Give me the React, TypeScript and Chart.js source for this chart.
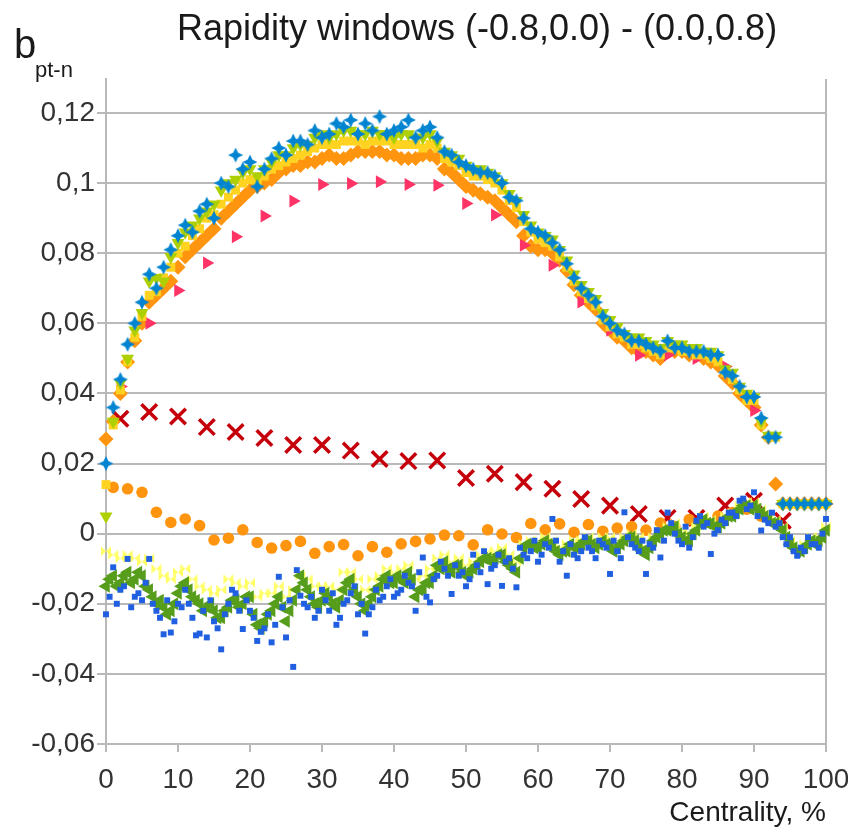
import React, { useEffect, useRef } from 'react';
import { Chart, registerables } from 'chart.js';

Chart.register(...registerables);

// ---------- axis / category data ----------
const centrality: number[] = Array.from({ length: 101 }, (_, i) => i);
const centralityHalf: number[] = centrality.slice(0, 100).map((c) => c + 0.5);
const sparse4: number[] = [2, 6, 10, 14, 18, 22, 26, 30, 34, 38, 42, 46, 50, 54, 58, 62, 66, 70, 74, 78, 82, 86, 90, 94];
const sparseOdd: number[] = [1, 3, 5, 7, 9, 11, 13, 15, 17, 19, 21, 23, 25, 27, 29, 31, 33, 35, 37, 39, 41, 43, 45, 47, 49, 51, 53, 55, 57, 59, 61, 63, 65, 67, 69, 71, 73, 75, 77, 79, 81, 83, 85, 87, 89, 91];
const yTickValues: number[] = [-0.06, -0.04, -0.02, 0, 0.02, 0.04, 0.06, 0.08, 0.1, 0.12];
const xTickValues: number[] = [0, 10, 20, 30, 40, 50, 60, 70, 80, 90, 100];

const titleText = 'Rapidity windows (-0.8,0.0) - (0.0,0.8)';
const yLabelMain = 'b';
const yLabelSub = 'pt-n';
const xLabel = 'Centrality, %';

// ---------- upper band series (x = 0..100) ----------
const blueStar: number[] = [
  0.02, 0.036, 0.044, 0.054, 0.06, 0.066, 0.074, 0.07, 0.076, 0.081,
  0.085, 0.088, 0.086, 0.092, 0.094, 0.09, 0.1, 0.099, 0.108, 0.104,
  0.106, 0.099, 0.104, 0.107, 0.11, 0.108, 0.112, 0.112, 0.111, 0.115,
  0.113, 0.114, 0.117, 0.116, 0.118, 0.114, 0.117, 0.115, 0.119, 0.114,
  0.115, 0.116, 0.118, 0.113, 0.115, 0.116, 0.113, 0.109, 0.108, 0.106,
  0.105, 0.104, 0.103, 0.103, 0.102, 0.1, 0.096, 0.095, 0.09, 0.087,
  0.086, 0.085, 0.083, 0.081, 0.077, 0.073, 0.07, 0.068, 0.066, 0.062,
  0.06, 0.058, 0.057, 0.055, 0.055, 0.054, 0.053, 0.052, 0.055, 0.053,
  0.053, 0.052, 0.052, 0.052, 0.051, 0.051, 0.046, 0.045, 0.042, 0.039,
  0.039, 0.033, 0.0275, 0.0275, 0.0085, 0.0085, 0.0085, 0.0085, 0.0085, 0.0085,
  0.0085,
];
const yellowGreenTri: number[] = [
  0.005, 0.032, 0.043, 0.05, 0.058, 0.063, 0.072, 0.073, 0.072, 0.079,
  0.083, 0.086, 0.088, 0.09, 0.092, 0.094, 0.098, 0.1, 0.101, 0.103,
  0.104, 0.102, 0.104, 0.106, 0.108, 0.108, 0.11, 0.111, 0.111, 0.113,
  0.114, 0.113, 0.114, 0.115, 0.115, 0.114, 0.114, 0.115, 0.114, 0.114,
  0.113, 0.114, 0.114, 0.113, 0.113, 0.114, 0.112, 0.109, 0.108, 0.107,
  0.105, 0.104, 0.104, 0.103, 0.102, 0.1, 0.097, 0.095, 0.091, 0.088,
  0.086, 0.085, 0.084, 0.081, 0.078, 0.074, 0.071, 0.069, 0.067, 0.063,
  0.061, 0.059, 0.057, 0.056, 0.056, 0.055, 0.054, 0.053, 0.055, 0.054,
  0.054, 0.053, 0.053, 0.052, 0.052, 0.051, 0.047, 0.046, 0.042, 0.04,
  0.039, 0.032, 0.028, 0.028, 0.0085, 0.0085, 0.0085, 0.0085, 0.0085, 0.0085,
  0.0085,
];
const yellowSquare: number[] = [
  0.014, 0.031, 0.041, 0.049, 0.056, 0.062, 0.068, 0.069, 0.073, 0.076,
  0.08, 0.082, 0.085, 0.087, 0.09, 0.091, 0.094, 0.096, 0.098, 0.1,
  0.101, 0.1, 0.102, 0.104, 0.105, 0.106, 0.107, 0.108, 0.109, 0.11,
  0.111, 0.111, 0.111, 0.112, 0.112, 0.112, 0.111, 0.112, 0.112, 0.112,
  0.111, 0.111, 0.111, 0.111, 0.11, 0.111, 0.11, 0.107, 0.106, 0.105,
  0.103, 0.102, 0.102, 0.101, 0.1, 0.098, 0.095, 0.093, 0.089, 0.086,
  0.084, 0.083, 0.082, 0.079, 0.076, 0.072, 0.069, 0.067, 0.065, 0.061,
  0.059, 0.057, 0.056, 0.054, 0.054, 0.053, 0.052, 0.051, 0.053, 0.053,
  0.052, 0.052, 0.051, 0.051, 0.05, 0.049, 0.046, 0.044, 0.041, 0.038,
  0.038, 0.031, 0.0275, 0.0275, 0.0085, 0.0085, 0.0085, 0.0085, 0.0085, 0.0085,
  0.0085,
];
const orangeDiamond: number[] = [
  0.027, 0.032, 0.04, 0.049, 0.055, 0.06, 0.066, 0.068, 0.07, 0.072,
  0.076, 0.079, 0.081, 0.083, 0.085, 0.087, 0.09, 0.092, 0.094, 0.096,
  0.098, 0.099, 0.1, 0.101, 0.103, 0.104, 0.105, 0.105, 0.106, 0.106,
  0.107, 0.108, 0.107, 0.107, 0.108, 0.109, 0.109, 0.109, 0.109, 0.108,
  0.108, 0.107, 0.107, 0.107, 0.108, 0.108, 0.107, 0.104, 0.103, 0.101,
  0.099, 0.098, 0.097, 0.096, 0.095, 0.093, 0.091, 0.089, 0.085, 0.082,
  0.081, 0.081, 0.08, 0.078, 0.075, 0.071, 0.068, 0.066, 0.064, 0.06,
  0.058, 0.056, 0.055, 0.053, 0.052, 0.052, 0.051, 0.05, 0.052, 0.052,
  0.052, 0.051, 0.051, 0.05, 0.049, 0.048, 0.045, 0.043, 0.04, 0.038,
  0.036, 0.031, 0.0275, 0.0142, 0.0085, 0.0085, 0.0085, 0.0085, 0.0085, 0.0085,
  0.0085,
];

// ---------- sparse series ----------
const pinkTri: number[] = [
  0.042, 0.06, 0.0694, 0.0772, 0.0847, 0.0906, 0.0949, 0.0996, 0.0999, 0.1004,
  0.0996, 0.0994, 0.0942, 0.0909, 0.0823, 0.0766, 0.0661, 0.058, 0.0509, 0.051,
  0.05, 0.0477, 0.0351,
];
const redCross: number[] = [
  0.0328, 0.0347, 0.0334, 0.0304, 0.029, 0.0273, 0.0253, 0.0253, 0.0237, 0.0213,
  0.0207, 0.0209, 0.0159, 0.0171, 0.0147, 0.0128, 0.0099, 0.008, 0.0056, 0.0045,
  0.0045, 0.008, 0.0094, 0.0037,
];
const orangeCircle: number[] = [
  0.0132, 0.0128, 0.0118, 0.0061, 0.0032, 0.0042, 0.0023, -0.0018, -0.0013, 0.0011,
  -0.0025, -0.0041, -0.0034, -0.0022, -0.0056, -0.0037, -0.0031, -0.0063, -0.0037, -0.0053,
  -0.0029, -0.0022, -0.0015, -0.0004, -0.0006, -0.0032, 0.0011, -0.0001, -0.0011, 0.0029,
  0.0011, 0.0028, 0.0004, 0.0026, 0.0007, 0.0016, 0.002, 0.001, 0.003, 0.002,
  0.004, 0.003, 0.005, 0.006, 0.007, 0.005,
];

// ---------- lower band series ----------
const greenTriA: number[] = [
  -0.015, -0.012, -0.014, -0.011, -0.013, -0.012, -0.016, -0.02, -0.021, -0.022,
  -0.017, -0.014, -0.018, -0.02, -0.021, -0.022, -0.024, -0.021, -0.019, -0.02,
  -0.018, -0.026, -0.025, -0.022, -0.018, -0.025, -0.019, -0.012, -0.016, -0.02,
  -0.019, -0.018, -0.021, -0.016, -0.013, -0.018, -0.022, -0.018, -0.015, -0.012,
  -0.014, -0.013, -0.011, -0.018, -0.016, -0.014, -0.009, -0.008, -0.011, -0.009,
  -0.012, -0.01, -0.008, -0.007, -0.007, -0.006, -0.009, -0.011, -0.004, -0.003,
  -0.004, -0.002, -0.003, -0.006, -0.005, -0.004, -0.003, -0.002, -0.004, -0.002,
  -0.003, -0.004, -0.002, -0.001, -0.003, -0.006, -0.002, 0, 0.001, 0.002,
  -0.001, -0.002, 0.001, 0.004, 0.003, 0.002, 0.004, 0.005, 0.007, 0.008,
  0.008, 0.006, 0.004, 0.003, 0.001, -0.003, -0.005, -0.004, -0.002, -0.002,
  0.001,
];
const greenTriB: number[] = [
  -0.013, -0.015, -0.012, -0.014, -0.011, -0.015, -0.018, -0.019, -0.023, -0.02,
  -0.015, -0.016, -0.019, -0.022, -0.02, -0.024, -0.022, -0.019, -0.021, -0.018,
  -0.023, -0.027, -0.023, -0.02, -0.021, -0.022, -0.016, -0.014, -0.018, -0.021,
  -0.017, -0.02, -0.019, -0.014, -0.016, -0.02, -0.02, -0.016, -0.013, -0.014,
  -0.012, -0.014, -0.013, -0.016, -0.014, -0.012, -0.01, -0.01, -0.009, -0.011,
  -0.011, -0.009, -0.007, -0.008, -0.006, -0.008, -0.01, -0.007, -0.003, -0.004,
  -0.003, -0.003, -0.005, -0.005, -0.003, -0.004, -0.002, -0.003, -0.003, -0.003,
  -0.005, -0.003, -0.001, -0.002, -0.005, -0.004, -0.001, 0.001, 0.001, 0,
  -0.002, 0, 0.003, 0.003, 0.002, 0.003, 0.005, 0.006, 0.008, 0.007,
  0.007, 0.005, 0.003, 0.002, -0.001, -0.004, -0.005, -0.003, -0.003, -0.001,
];
const paleBowtie: number[] = [
  -0.005, -0.006, -0.007, -0.006, -0.007, -0.008, -0.007, -0.01, -0.012, -0.013,
  -0.011, -0.01, -0.013, -0.015, -0.016, -0.017, -0.016, -0.013, -0.014, -0.015,
  -0.014, -0.018, -0.017, -0.017, -0.015, -0.018, -0.016, -0.012, -0.013, -0.015,
  -0.015, -0.015, -0.016, -0.011, -0.011, -0.013, -0.016, -0.013, -0.012, -0.01,
  -0.011, -0.01, -0.009, -0.013, -0.012, -0.01, -0.007, -0.006, -0.008, -0.007,
  -0.009, -0.008, -0.006, -0.005, -0.005, -0.004, -0.006, -0.008, -0.003, -0.002,
  -0.002, -0.001, -0.002, -0.004, -0.003, -0.002, -0.002, -0.001, -0.003, -0.001,
  -0.001, -0.002, -0.001, 0, -0.001, -0.004, -0.001, 0.001, 0.002, 0.003,
  0.001, 0, 0.002, 0.005, 0.004, 0.003, 0.005, 0.006, 0.008, 0.009,
  0.009, 0.007, 0.005, 0.004, 0.002, -0.002, -0.004, -0.003, -0.001, -0.001,
  0.002,
];
const blueDotsA: number[] = [
  -0.023, -0.0096, -0.016, -0.0072, -0.018, -0.019, -0.0072, -0.022, -0.0287, -0.0282,
  -0.02, -0.016, -0.024, -0.0285, -0.0296, -0.025, -0.033, -0.02, -0.017, -0.0272,
  -0.022, -0.0306, -0.027, -0.031, -0.0123, -0.0296, -0.038, -0.0177, -0.021, -0.024,
  -0.016, -0.022, -0.026, -0.02, -0.017, -0.023, -0.0285, -0.021, -0.019, -0.015,
  -0.018, -0.016, -0.014, -0.022, -0.0068, -0.0196, -0.012, -0.01, -0.0172, -0.012,
  -0.015, -0.006, -0.011, -0.0144, -0.009, -0.0149, -0.007, -0.0153, -0.006, -0.005,
  -0.008, -0.003, 0.0042, -0.008, -0.012, -0.006, -0.005, -0.004, -0.007, -0.003,
  -0.0115, -0.005, 0.0061, -0.003, -0.005, -0.0115, -0.004, -0.0068, 0.006, 0,
  -0.003, -0.004, 0.0037, 0.002, -0.0058, 0.001, 0.003, 0.006, 0.0094, 0.007,
  0.0118, 0.0009, 0.003, 0.002, -0.001, -0.001, -0.0063, -0.005, -0.003, -0.004,
  0.0042,
];
const blueDotsB: number[] = [
  -0.018, -0.02, -0.015, -0.021, -0.017, -0.014, -0.02, -0.024, -0.019, -0.025,
  -0.021, -0.02, -0.029, -0.022, -0.019, -0.027, -0.023, -0.016, -0.022, -0.019,
  -0.024, -0.028, -0.023, -0.026, -0.021, -0.019, -0.0104, -0.02, -0.018, -0.022,
  -0.019, -0.017, -0.024, -0.019, -0.015, -0.02, -0.023, -0.016, -0.018, -0.013,
  -0.017, -0.012, -0.015, -0.011, -0.018, -0.013, -0.008, -0.012, -0.009, -0.011,
  -0.013, -0.009, -0.005, -0.01, -0.006, -0.008, -0.01, -0.004, -0.007, -0.002,
  -0.006, -0.004, -0.002, -0.005, -0.003, -0.007, -0.001, -0.005, -0.002, -0.004,
  -0.002, -0.007, -0.001, -0.004, -0.002, -0.003, 0.001, -0.002, 0.003, -0.002,
  0.002, -0.001, 0.005, 0.003, 0, 0.004, 0.006, 0.005, 0.01, 0.008,
  0.005, 0.004, 0.006, 0.003, -0.003, -0.005, -0.004, -0.001, -0.003, 0,
];

// ---------- marker images ----------
function makeMarker(size: number, draw: (ctx: CanvasRenderingContext2D, s: number) => void): HTMLCanvasElement {
  const c = document.createElement('canvas');
  c.width = size;
  c.height = size;
  const ctx = c.getContext('2d') as CanvasRenderingContext2D;
  draw(ctx, size);
  return c;
}

function starMarker(color: string): HTMLCanvasElement {
  return makeMarker(16, (ctx, s) => {
    const c = s / 2;
    const r = 7.5;
    const k = 2.4;
    ctx.fillStyle = color;
    ctx.beginPath();
    ctx.moveTo(c, c - r);
    ctx.lineTo(c + k, c - k);
    ctx.lineTo(c + r, c);
    ctx.lineTo(c + k, c + k);
    ctx.lineTo(c, c + r);
    ctx.lineTo(c - k, c + k);
    ctx.lineTo(c - r, c);
    ctx.lineTo(c - k, c - k);
    ctx.closePath();
    ctx.fill();
  });
}

function bowtieMarker(color: string): HTMLCanvasElement {
  return makeMarker(12, (ctx, s) => {
    ctx.fillStyle = color;
    ctx.beginPath();
    ctx.moveTo(1, 1);
    ctx.lineTo(s - 1, s - 1);
    ctx.lineTo(s - 1, 1);
    ctx.lineTo(1, s - 1);
    ctx.closePath();
    ctx.fill();
  });
}

const FONT = '"Liberation Sans", Arial, sans-serif';

function fmtTick(v: number): string {
  const r = Math.round(v * 100) / 100;
  return String(r).replace('.', ',');
}

export default function App() {
  const canvasRef = useRef<HTMLCanvasElement | null>(null);

  useEffect(() => {
    const canvas = canvasRef.current;
    if (!canvas) return;

    const pts = (xs: number[], ys: number[]) => ys.map((y, i) => ({ x: xs[i], y }));

    const textPlugin = {
      id: 'textPlugin',
      afterDraw(chart: any) {
        const ctx = chart.ctx as CanvasRenderingContext2D;
        ctx.save();
        ctx.fillStyle = '#1a1a1a';
        ctx.textBaseline = 'alphabetic';
        ctx.font = `36px ${FONT}`;
        ctx.textAlign = 'center';
        ctx.fillText(titleText, 477, 40);
        ctx.textAlign = 'left';
        ctx.font = `40px ${FONT}`;
        ctx.fillText(yLabelMain, 14, 58);
        ctx.font = `22px ${FONT}`;
        ctx.fillText(yLabelSub, 35, 77);
        ctx.font = `28px ${FONT}`;
        ctx.textAlign = 'right';
        ctx.fillText(xLabel, 826, 821);
        ctx.restore();
      },
    };

    const common = { showLine: false, clip: false as any, pointBorderWidth: 0 };

    const chart = new Chart(canvas, {
      type: 'scatter',
      data: {
        datasets: [
          { ...common, label: 'blue star', data: pts(centrality, blueStar), pointStyle: starMarker('#0084d1') as any, pointRadius: 6, backgroundColor: '#0084d1' },
          { ...common, label: 'yg tri', data: pts(centrality, yellowGreenTri), pointStyle: 'triangle', rotation: 180, pointRadius: 7.5, backgroundColor: '#aecf00' },
          { ...common, label: 'yellow sq', data: pts(centrality, yellowSquare), pointStyle: 'rect', pointRadius: 6.3, backgroundColor: '#ffd320' },
          { ...common, label: 'pink tri', data: pts(sparse4, pinkTri), pointStyle: 'triangle', rotation: 90, pointRadius: 7.5, backgroundColor: '#ff3366' },
          { ...common, label: 'orange dia', data: pts(centrality, orangeDiamond), pointStyle: 'rectRot', pointRadius: 7.5, backgroundColor: '#ff950e' },
          { ...common, label: 'blue dots', data: [...pts(centrality, blueDotsA), ...pts(centralityHalf, blueDotsB)], pointStyle: 'rect', pointRadius: 4.2, backgroundColor: '#1f5fe0' },
          { ...common, label: 'green tri', data: [...pts(centrality, greenTriA), ...pts(centralityHalf, greenTriB)], pointStyle: 'triangle', rotation: 270, pointRadius: 7.5, backgroundColor: '#579d1c' },
          { ...common, label: 'bowtie', data: pts(centrality, paleBowtie), pointStyle: bowtieMarker('#ffff66') as any, pointRadius: 5, backgroundColor: '#ffff66' },
          { ...common, label: 'orange circle', data: pts(sparseOdd, orangeCircle), pointStyle: 'circle', pointRadius: 5.8, backgroundColor: '#ff950e' },
          { ...common, label: 'red x', data: pts(sparse4, redCross), pointStyle: 'crossRot', pointRadius: 11, borderColor: '#c5000b', pointBorderWidth: 3.5, backgroundColor: '#c5000b' },
        ] as any,
      },
      options: {
        animation: false,
        responsive: false,
        maintainAspectRatio: false,
        events: [],
        layout: { padding: { left: 0, right: 22, top: 79, bottom: 0 } },
        plugins: {
          legend: { display: false },
          tooltip: { enabled: false },
          title: { display: false },
        },
        scales: {
          x: {
            type: 'linear',
            min: 0,
            max: 100,
            afterBuildTicks: (axis: any) => {
              axis.ticks = xTickValues.map((v) => ({ value: v }));
            },
            afterFit: (scale: any) => {
              scale.height = 85;
              scale.paddingLeft = 0;
              scale.paddingRight = 0;
            },
            ticks: {
              color: '#333333',
              font: { family: FONT, size: 28 },
              padding: 11,
              maxRotation: 0,
              autoSkip: false,
            },
            grid: {
              color: (ctx: any) => (ctx.tick && ctx.tick.value === 100 ? '#b9b9b9' : 'rgba(0,0,0,0)'),
              lineWidth: 2,
              tickColor: '#b9b9b9',
              tickLength: 8,
              tickWidth: 2,
              drawTicks: true,
            },
            border: { color: '#b9b9b9', width: 2 },
          },
          y: {
            type: 'linear',
            min: -0.06,
            max: 0.1297,
            afterBuildTicks: (axis: any) => {
              axis.ticks = yTickValues.map((v) => ({ value: v }));
            },
            afterFit: (scale: any) => {
              scale.width = 106;
              scale.paddingTop = 0;
              scale.paddingBottom = 0;
            },
            ticks: {
              color: '#333333',
              font: { family: FONT, size: 28 },
              padding: 2,
              autoSkip: false,
              callback: (v: any) => fmtTick(Number(v)),
            },
            grid: {
              color: '#b9b9b9',
              lineWidth: 2,
              tickColor: '#b9b9b9',
              tickLength: 9,
              tickWidth: 2,
              drawTicks: true,
            },
            border: { color: '#b9b9b9', width: 2 },
          },
        },
      } as any,
      plugins: [textPlugin],
    });

    return () => {
      chart.destroy();
    };
  }, []);

  return (
    <div style={{ position: 'absolute', left: 0, top: 0, width: 848, height: 829, background: '#ffffff' }}>
      <canvas ref={canvasRef} width={848} height={829} style={{ display: 'block', width: 848, height: 829 }} />
    </div>
  );
}
